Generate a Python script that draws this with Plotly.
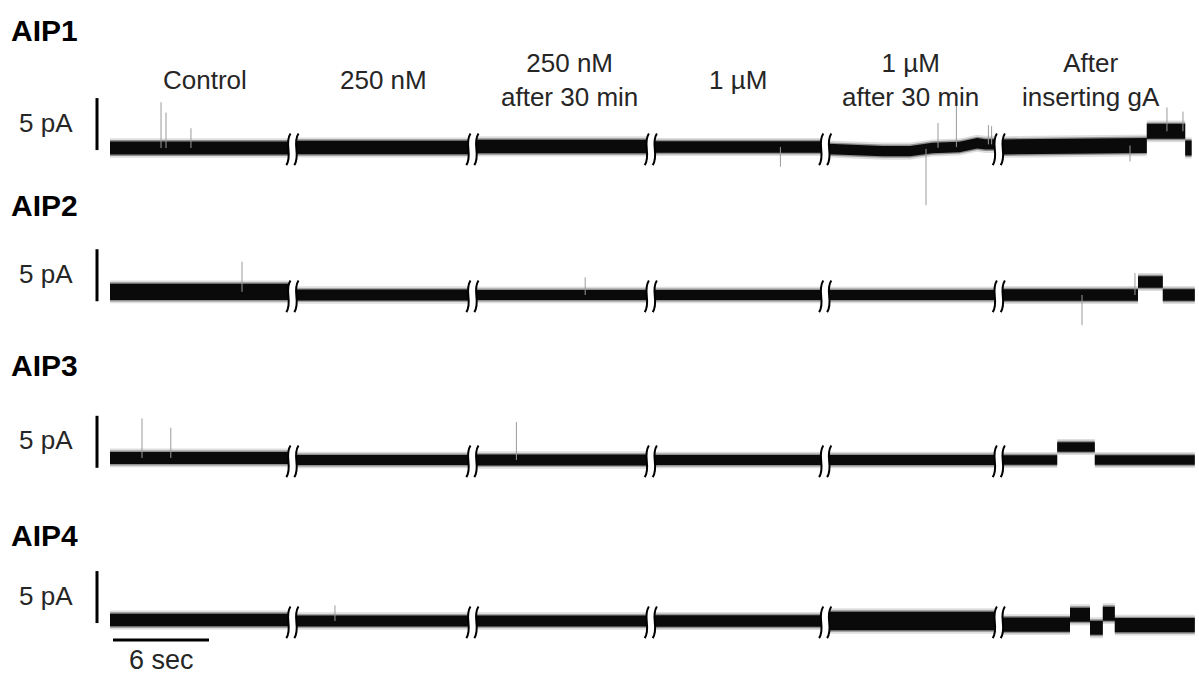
import numpy as np
import plotly.graph_objects as go

# ---------------- data ----------------
rows = ["AIP1", "AIP2", "AIP3", "AIP4"]
conditions = ["Control", "250 nM", "250 nM<br>after 30 min", "1 µM",
              "1 µM<br>after 30 min", "After<br>inserting gA"]

# recording segments (s) shown between the break marks
segment_start = [0.0, 11.6, 22.9, 34.0, 44.9, 55.8]
segment_end = [11.2, 22.4, 33.6, 44.5, 55.3, 67.8]

# current level points (s, pA) per segment
aip1_t = [[0.0, 11.2], [11.6, 22.4], [22.9, 33.6], [34.0, 44.5],
          [44.9, 48.3, 50.0, 51.4, 53.1, 54.2, 54.7, 55.3],
          [55.8, 61.0, 64.8, 64.8, 67.2, 67.2, 67.6]]
aip1_level = [[0.0, 0.0], [0.05, 0.05], [0.15, 0.15], [0.1, 0.1],
              [-0.1, -0.3, -0.3, 0.0, 0.1, 0.45, 0.35, 0.35],
              [0.1, 0.2, 0.25, 1.6, 1.6, 0.0, 0.0]]
aip1_noise = [0.62, 0.65, 0.65, 0.55, 0.5, 0.72]

aip2_t = [[0.0, 11.2], [11.6, 22.4], [22.9, 33.6], [34.0, 44.5], [44.9, 55.3],
          [55.8, 64.25, 64.25, 65.8, 65.8, 67.8]]
aip2_level = [[0.3, 0.3], [0.0, 0.0], [0.0, 0.0], [0.0, 0.0], [0.0, 0.0],
              [0.0, 0.0, 1.25, 1.25, 0.0, 0.0]]
aip2_noise = [0.78, 0.52, 0.48, 0.48, 0.48, 0.55]

aip3_t = [[0.0, 11.2], [11.6, 22.4], [22.9, 33.6], [34.0, 44.5], [44.9, 55.3],
          [55.8, 59.2, 59.2, 61.55, 61.55, 67.8]]
aip3_level = [[0.2, 0.2], [0.0, 0.0], [0.0, 0.0], [0.0, 0.0], [0.0, 0.0],
              [0.0, 0.0, 1.25, 1.25, 0.0, 0.0]]
aip3_noise = [0.58, 0.48, 0.52, 0.48, 0.48, 0.45]

aip4_t = [[0.0, 11.2], [11.6, 22.4], [22.9, 33.6], [34.0, 44.5], [44.9, 55.3],
          [55.8, 60.0, 60.0, 61.25, 61.25, 62.05, 62.05, 62.8, 62.8, 67.8]]
aip4_level = [[0.1, 0.1], [0.0, 0.0], [0.0, 0.0], [0.0, 0.0], [0.0, 0.0],
              [-0.35, -0.35, 0.6, 0.6, -0.65, -0.65, 0.7, 0.7, -0.4, -0.4]]
aip4_noise = [0.6, 0.52, 0.52, 0.55, 0.9, 0.68]

# brief spikes: time (s) and tip current (pA)
aip1_spike_t = [3.19, 3.5, 5.06, 41.9, 51.0, 51.75, 52.9, 54.9, 55.1, 63.75, 66.06, 67.06]
aip1_spike_tip = [4.4, 3.4, 1.9, -1.8, -5.5, 2.4, 4.3, 2.2, 2.1, -1.3, 3.9, 3.5]
aip2_spike_t = [8.25, 29.7, 60.75, 64.06]
aip2_spike_tip = [3.2, 1.7, -2.9, 2.1]
aip3_spike_t = [2.0, 3.8, 25.4]
aip3_spike_tip = [4.0, 3.1, 3.65]
aip4_spike_t = [14.06]
aip4_spike_tip = [1.5]

scale_current = 5.0   # pA
scale_time = 6.0      # s

# ---------------- layout helpers ----------------
W, H = 1199, 677
PX_PER_S = 16.0
PX_PER_PA = 10.4
X0_PX = 110
x_range = [-X0_PX / PX_PER_S, (W - X0_PX) / PX_PER_S]
row_base_px = [148, 295, 460, 621]
row_title_px = [30, 205, 365, 535]
bar_bottom = [-0.2, -0.6, -0.75, -0.2]

row_t = [aip1_t, aip2_t, aip3_t, aip4_t]
row_level = [aip1_level, aip2_level, aip3_level, aip4_level]
row_noise = [aip1_noise, aip2_noise, aip3_noise, aip4_noise]
row_spike_t = [aip1_spike_t, aip2_spike_t, aip3_spike_t, aip4_spike_t]
row_spike_tip = [aip1_spike_tip, aip2_spike_tip, aip3_spike_tip, aip4_spike_tip]

yaxes = ["y", "y2", "y3", "y4"]
FONT = "Liberation Sans, Arial, sans-serif"
TXT = "#262626"

fig = go.Figure()
shapes = []
annotations = []


def to_pa(r, px):
    return (row_base_px[r] - px) / PX_PER_PA


for r in range(4):
    ya = yaxes[r]
    # noisy current band per segment
    for s in range(6):
        t = np.array(row_t[r][s], dtype=float)
        lv = np.array(row_level[r][s], dtype=float)
        hw = row_noise[r][s]
        for extra, col in [(0.32, "rgba(0,0,0,0.13)"), (0.14, "rgba(0,0,0,0.35)"), (0.0, "#0a0a0a")]:
            xs = np.concatenate([t, t[::-1]])
            ys = np.concatenate([lv + hw + extra, (lv - hw - extra)[::-1]])
            fig.add_trace(go.Scatter(x=xs, y=ys, mode="lines", fill="toself",
                                     fillcolor=col, line=dict(width=0),
                                     hoverinfo="skip", showlegend=False, yaxis=ya))
    # spikes
    sx, sy = [], []
    all_t = np.concatenate([np.array(a, float) for a in row_t[r]])
    all_l = np.concatenate([np.array(a, float) for a in row_level[r]])
    for ts, tip in zip(row_spike_t[r], row_spike_tip[r]):
        base = float(np.interp(ts, all_t, all_l))
        sx += [ts, ts, None]
        sy += [base, tip, None]
    fig.add_trace(go.Scatter(x=sx, y=sy, mode="lines", line=dict(color="#9a9a9a", width=1),
                             hoverinfo="skip", showlegend=False, yaxis=ya))
    # vertical 5 pA scale bar
    bx = (97 - X0_PX) / PX_PER_S
    fig.add_trace(go.Scatter(x=[bx, bx], y=[bar_bottom[r], bar_bottom[r] + scale_current],
                             mode="lines", line=dict(color="black", width=3),
                             hoverinfo="skip", showlegend=False, yaxis=ya))
    annotations.append(dict(x=(75 - X0_PX) / PX_PER_S, y=bar_bottom[r] + scale_current / 2 + 0.15,
                            xref="x", yref=ya, text="5 pA", showarrow=False,
                            xanchor="right", yanchor="middle",
                            font=dict(family=FONT, size=26, color=TXT)))
    annotations.append(dict(x=(9 - X0_PX) / PX_PER_S, y=to_pa(r, row_title_px[r]),
                            xref="x", yref=ya, text="<b>%s</b>" % rows[r], showarrow=False,
                            xanchor="left", yanchor="middle",
                            font=dict(family=FONT, size=30, color="black")))
    # break marks
    for k in range(5):
        tb = (segment_end[k] + segment_start[k + 1]) / 2
        top, bot = 1.4, -1.65
        dx = 0.13
        cl, cr = tb - 0.25, tb + 0.25

        def s_curve(c):
            return (f"M {c+dx},{top} C {c-2.2*dx},{top-1.0} {c+2.2*dx},{bot+1.0} {c-dx},{bot}")
        gap = (f"M {cl+dx},{top} C {cl-2.2*dx},{top-1.0} {cl+2.2*dx},{bot+1.0} {cl-dx},{bot} "
               f"L {cr-dx},{bot} C {cr+2.2*dx},{bot+1.0} {cr-2.2*dx},{top-1.0} {cr+dx},{top} Z")
        shapes.append(dict(type="path", path=gap, xref="x", yref=ya,
                           fillcolor="white", line=dict(width=0), layer="above"))
        for c in (cl, cr):
            shapes.append(dict(type="path", path=s_curve(c), xref="x", yref=ya,
                               line=dict(color="black", width=2), layer="above"))

# condition labels above the first row
label_shift = [0.35, 0.1, 0.45, 0.0, -0.1, -0.5]
for s, lab in enumerate(conditions):
    cx = (segment_start[s] + segment_end[s]) / 2 + label_shift[s]
    annotations.append(dict(x=cx, y=to_pa(0, 80), xref="x", yref="y", text=lab,
                            showarrow=False, xanchor="center", yanchor="middle",
                            font=dict(family=FONT, size=26, color=TXT)))

# horizontal 6 s scale bar under the last row
t0 = (113 - X0_PX) / PX_PER_S
fig.add_trace(go.Scatter(x=[t0, t0 + scale_time], y=[to_pa(3, 640), to_pa(3, 640)],
                         mode="lines", line=dict(color="black", width=3),
                         hoverinfo="skip", showlegend=False, yaxis="y4"))
annotations.append(dict(x=t0 + scale_time / 2, y=to_pa(3, 660), xref="x", yref="y4",
                        text="6 sec", showarrow=False, xanchor="center", yanchor="middle",
                        font=dict(family=FONT, size=27, color=TXT)))

layout_axes = {}
for r in range(4):
    lo = -(H - row_base_px[r]) / PX_PER_PA
    ax = dict(range=[lo, lo + H / PX_PER_PA], visible=False, showgrid=False,
              zeroline=False, fixedrange=True, domain=[0, 1])
    if r > 0:
        ax["overlaying"] = "y"
    layout_axes["yaxis" if r == 0 else "yaxis%d" % (r + 1)] = ax

fig.update_layout(
    width=W, height=H,
    margin=dict(l=0, r=0, t=0, b=0),
    paper_bgcolor="white", plot_bgcolor="white",
    xaxis=dict(range=x_range, visible=False, showgrid=False, zeroline=False,
               fixedrange=True, domain=[0, 1]),
    shapes=shapes, annotations=annotations, showlegend=False,
    **layout_axes,
)

fig.write_html("out.html")
